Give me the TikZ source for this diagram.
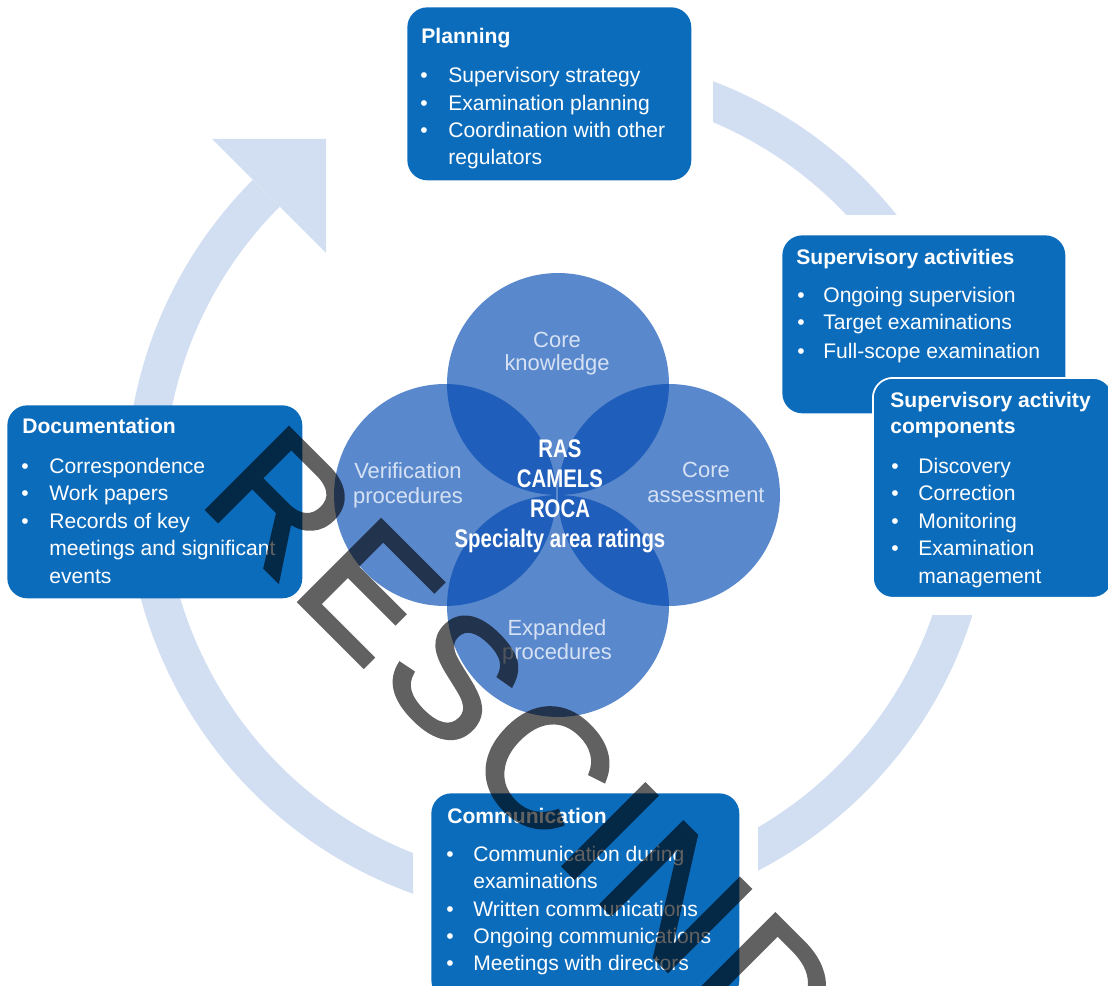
\documentclass[tikz,border=0pt]{standalone}
\usepackage{fontspec}
\setmainfont{Liberation Sans}
\newfontfamily\condfont[FakeStretch=0.8]{Liberation Sans}
\newfontfamily\wmfont[FakeBold=2,LetterSpace=5]{Liberation Sans}
\definecolor{ringc}{RGB}{210,222,242}
\definecolor{boxblue}{RGB}{12,108,188}
\definecolor{circblue}{RGB}{0,72,176}
\definecolor{circtext}{RGB}{214,226,244}
\begin{document}
\begin{tikzpicture}[x=0.02cm,y=-0.02cm,
  ringline/.style={draw=ringc,line width=0.76cm},
  bx/.style={fill=boxblue,rounded corners=0.4cm,anchor=north west,inner sep=0},
  circ/.style={circle,minimum size=4.44cm,inner sep=0,fill=circblue,fill opacity=0.65},
  ttl/.style={anchor=base west,inner sep=0,text=white,font=\fontsize{12}{14}\selectfont\bfseries},
  itm/.style={anchor=base west,inner sep=0,text=white,font=\fontsize{12}{14}\selectfont},
  bul/.style={anchor=base west,inner sep=0,text=white,font=\fontsize{12}{14}\selectfont},
  clab/.style={anchor=base,inner sep=0,text=circtext,font=\fontsize{12.5}{14}\selectfont},
  ctr/.style={anchor=base,inner sep=0,text=white,font=\fontsize{14.5}{17}\condfont\bfseries},
  wm/.style={anchor=base west,inner sep=0,text=black,font=\fontsize{96}{96}\wmfont}]
\useasboundingbox (0,0) rectangle (1108,986);
\clip (0,0) rectangle (1108,986);
% ---- outer cycle ring ----
\begin{scope}
  \clip (713,0) rectangle (1108,215);
  \draw[ringline] (559,486) circle (414);
\end{scope}
\begin{scope}
  \clip (758,615) rectangle (1108,986);
  \draw[ringline] (559,486) circle (414);
\end{scope}
\begin{scope}
  \clip (0,0) rectangle (413,986);
  \draw[ringline] (559,486) ++(105:414) arc[start angle=105,end angle=225,radius=414];
\end{scope}
\fill[ringc] (212,139) -- (326,139) -- (326,253) -- cycle;
% ---- four circles ----
\node[circ] (ck) at (558,384) {};
\node[circ] (vp) at (445,495) {};
\node[circ] (ca) at (669,495) {};
\node[circ] (ep) at (558,606) {};
\node[clab] (ck1) at (557,347) {Core};
\node[clab] (ck2) at (557,370) {knowledge};
\node[clab] (vp1) at (408,478) {Verification};
\node[clab] (vp2) at (408,503) {procedures};
\node[clab] (ca1) at (706,477) {Core};
\node[clab] (ca2) at (706,502) {assessment};
\node[clab] (ep1) at (557,635) {Expanded};
\node[clab] (ep2) at (557,659) {procedures};
\node[ctr] (c1) at (560,457) {RAS};
\node[ctr] (c2) at (560,487) {CAMELS};
\node[ctr] (c3) at (560,517) {ROCA};
\node[ctr] (c4) at (560,547) {Specialty area ratings};
% ---- Planning ----
\node[bx,minimum width=5.68cm,minimum height=3.46cm] (plan) at (407,7) {};
\node[ttl] (plt) at (421,44) {Planning};
\node[bul] (plb1) at (420,83) {\textbullet};
\node[bul] (plb2) at (420,111) {\textbullet};
\node[bul] (plb3) at (420,138) {\textbullet};
\node[itm] (pl1) at (448,83) {Supervisory strategy};
\node[itm] (pl2) at (448,111) {Examination planning};
\node[itm] (pl3) at (448,138) {Coordination with other};
\node[itm] (pl4) at (448,165) {regulators};
% ---- Documentation ----
\node[bx,minimum width=5.9cm,minimum height=3.86cm] (doc) at (7,405) {};
\node[ttl] (dot) at (22,433) {Documentation};
\node[bul] (dob1) at (21,473) {\textbullet};
\node[bul] (dob2) at (21,500) {\textbullet};
\node[bul] (dob3) at (21,528) {\textbullet};
\node[itm] (do1) at (49,473) {Correspondence};
\node[itm] (do2) at (49,500) {Work papers};
\node[itm] (do3) at (49,528) {Records of key};
\node[itm] (do4) at (49,555) {meetings and significant};
\node[itm] (do5) at (49,583) {events};
% ---- Supervisory activities ----
\node[bx,minimum width=5.66cm,minimum height=3.56cm] (sa) at (782,235) {};
\node[ttl] (sat) at (796,265) {Supervisory activities};
\node[bul] (sab1) at (797,303) {\textbullet};
\node[bul] (sab2) at (797,330) {\textbullet};
\node[bul] (sab3) at (797,358) {\textbullet};
\node[itm] (sa1) at (823,303) {Ongoing supervision};
\node[itm] (sa2) at (823,330) {Target examinations};
\node[itm] (sa3) at (823,358) {Full-scope examination};
% ---- Supervisory activity components ----
\node[bx,draw=white,line width=1pt,minimum width=4.8cm,minimum height=4.4cm] (sac) at (872,377) {};
\node[ttl] (sact1) at (890,407) {Supervisory activity};
\node[ttl] (sact2) at (890,433) {components};
\node[bul] (sacb1) at (891,473) {\textbullet};
\node[bul] (sacb2) at (891,500) {\textbullet};
\node[bul] (sacb3) at (891,528) {\textbullet};
\node[bul] (sacb4) at (891,555) {\textbullet};
\node[itm] (sac1) at (918,473) {Discovery};
\node[itm] (sac2) at (918,500) {Correction};
\node[itm] (sac3) at (918,528) {Monitoring};
\node[itm] (sac4) at (918,555) {Examination};
\node[itm] (sac5) at (918,583) {management};
% ---- Communication ----
\node[bx,minimum width=6.16cm,minimum height=4.14cm] (com) at (431,793) {};
\node[ttl] (cot) at (447,823) {Communication};
\node[bul] (cob1) at (446,861) {\textbullet};
\node[bul] (cob3) at (446,916) {\textbullet};
\node[bul] (cob4) at (446,943) {\textbullet};
\node[bul] (cob5) at (446,970) {\textbullet};
\node[itm] (co1) at (473,861) {Communication during};
\node[itm] (co2) at (473,888) {examinations};
\node[itm] (co3) at (473,916) {Written communications};
\node[itm] (co4) at (473,943) {Ongoing communications};
\node[itm] (co5) at (473,970) {Meetings with directors};
% ---- watermark ----
\begin{scope}[transparency group,opacity=0.62]
  \node[wm,rotate=-45] (wmk) at (197,500) {RESCINDED};
\end{scope}
\end{tikzpicture}
\end{document}
